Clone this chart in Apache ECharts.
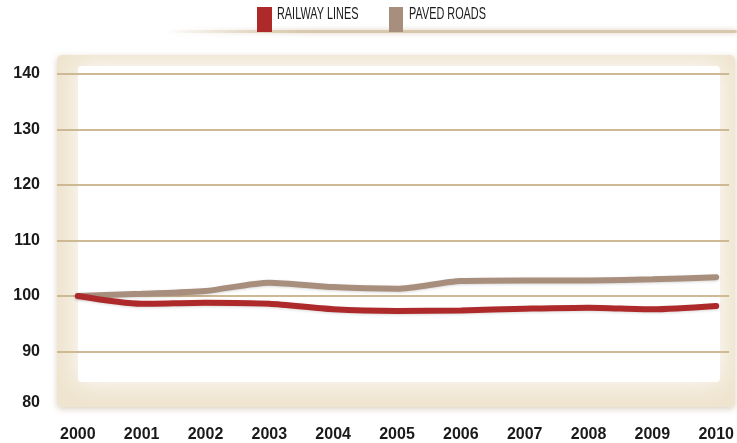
<!DOCTYPE html>
<html><head><meta charset="utf-8">
<script src="https://cdn.jsdelivr.net/npm/echarts@6/dist/echarts.min.js"></script>
<style>html,body{margin:0;padding:0;background:#fff}#c{width:737px;height:443px}</style>
</head><body><div id="c"></div>
<script>
const years = [2000, 2001, 2002, 2003, 2004, 2005, 2006, 2007, 2008, 2009, 2010];
const railwayLines = [100, 98.6, 98.8, 98.6, 97.6, 97.3, 97.4, 97.7, 97.9, 97.6, 98.2];
const pavedRoads = [100, 100.4, 100.9, 102.4, 101.6, 101.3, 102.7, 102.8, 102.8, 103.0, 103.4];
const yTicks = [80, 90, 100, 110, 120, 130, 140];

const pairs = arr => years.map((y, i) => [y, arr[i]]);
const chart = echarts.init(document.getElementById('c'), null, {renderer:'canvas'});
const labelFont = {fontFamily:'Liberation Sans', fontWeight:'bold', fontSize:16, color:'#1a1a1a'};
chart.setOption({
  animation:false,
  backgroundColor:'#fff',
  graphic:[
    {type:'rect', z:-10, shape:{x:165,y:30,width:572,height:3,r:1.5},
      style:{fill:{type:'linear',x:0,y:0,x2:1,y2:0,colorStops:[{offset:0,color:'rgba(217,200,171,0)'},{offset:0.25,color:'#d9c8ab'},{offset:1,color:'#d9c8ab'}]},
      shadowBlur:5, shadowColor:'rgba(170,140,100,0.45)'}},
    {type:'rect', z:-10, shape:{x:57,y:55,width:678,height:352,r:5}, style:{fill:'#efe4cf', shadowBlur:6, shadowColor:'rgba(150,120,80,0.35)', shadowOffsetY:2}},
    {type:'rect', z:-9, shape:{x:78,y:66,width:642,height:316,r:4}, style:{fill:'#ffffff', shadowBlur:26, shadowColor:'#ffffff'}},
    {type:'rect', z:5, left:257, top:7, shape:{width:15,height:25}, style:{fill:'#ae2a2a'}},
    {type:'text', z:5, x:277, y:6, scaleX:0.64, style:{text:'RAILWAY LINES', fontFamily:'Liberation Sans', fontSize:17, fill:'#1a1a1a'}},
    {type:'rect', z:5, left:389, top:7, shape:{width:14,height:25}, style:{fill:'#a88e7c'}},
    {type:'text', z:5, x:409, y:6, scaleX:0.64, style:{text:'PAVED ROADS', fontFamily:'Liberation Sans', fontSize:17, fill:'#1a1a1a'}}
  ],
  grid:{left:57, right:2, top:74, bottom:35, containLabel:false},
  xAxis:{type:'value', min:1999.674, max:2010.202,
    axisLine:{show:false},
    axisTick:{show:false, customValues:years},
    axisLabel:Object.assign({margin:20, customValues:years, formatter:v=>String(Math.round(v))}, labelFont),
    splitLine:{show:false}},
  yAxis:{type:'value', min:80, max:140, interval:10,
    axisLine:{show:false}, axisTick:{show:false},
    axisLabel:Object.assign({margin:17,
      formatter:v=>v===80?'{b|80}':(yTicks.includes(v)?String(v):''),
      rich:{b:Object.assign({padding:[0,0,8,0]}, labelFont)}}, labelFont),
    splitLine:{show:true, showMinLine:false, lineStyle:{color:'#cdb993', width:2}}},
  series:[
    {name:'PAVED ROADS', type:'line', data:pairs(pavedRoads), symbol:'none', smooth:0.25,
     lineStyle:{color:'#a88e7c', width:6, cap:'round', shadowBlur:3, shadowColor:'rgba(0,0,0,0.15)', shadowOffsetY:1}},
    {name:'RAILWAY LINES', type:'line', data:pairs(railwayLines), symbol:'none', smooth:0.25,
     lineStyle:{color:'#ae2a2a', width:6, cap:'round', shadowBlur:3, shadowColor:'rgba(0,0,0,0.15)', shadowOffsetY:1}}
  ]
});
</script></body></html>
